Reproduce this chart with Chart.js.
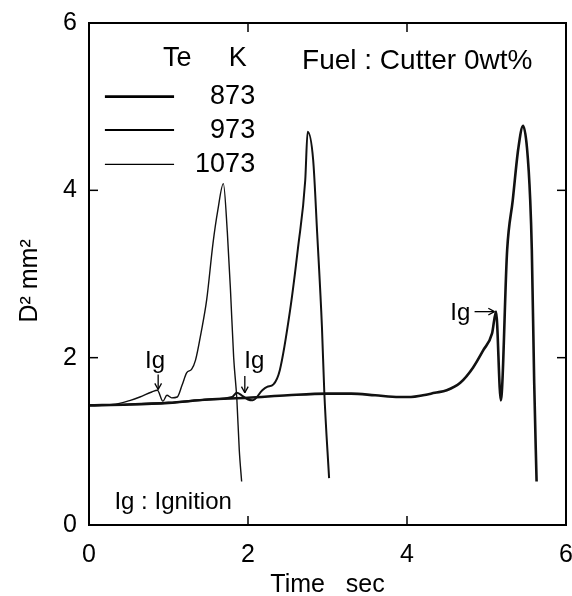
<!DOCTYPE html>
<html>
<head>
<meta charset="utf-8">
<script src="https://cdn.jsdelivr.net/npm/chart.js@4.4.0/dist/chart.umd.min.js"></script>
<style>
  html, body { margin: 0; padding: 0; background: #fff; }
  #wrap { width: 572px; height: 596px; }
</style>
</head>
<body>
<div id="wrap"><canvas id="graphD2" width="572" height="596"></canvas></div>
<script>
// Te = 873 K
const time873 = [0, 0.5, 1.0, 1.5, 2.0, 2.5, 3.0, 3.3, 3.6, 3.9, 4.05, 4.2, 4.35, 4.5, 4.67, 4.83, 4.96, 5.07, 5.12, 5.18, 5.26, 5.33, 5.40, 5.46, 5.51, 5.55, 5.57, 5.60, 5.63];
const d2_873   = [1.43, 1.44, 1.46, 1.50, 1.52, 1.55, 1.57, 1.57, 1.55, 1.53, 1.53, 1.55, 1.58, 1.61, 1.70, 1.88, 2.09, 2.29, 2.55, 1.49, 3.29, 3.88, 4.50, 4.77, 4.50, 3.88, 3.29, 1.70, 0.52];

// Te = 973 K
const time973 = [0, 0.5, 1.0, 1.5, 1.80, 1.86, 1.92, 2.00, 2.06, 2.18, 2.24, 2.32, 2.40, 2.53, 2.63, 2.72, 2.75, 2.82, 2.87, 2.93, 2.96, 3.02];
const d2_973   = [1.43, 1.44, 1.46, 1.50, 1.53, 1.58, 1.55, 1.50, 1.49, 1.61, 1.65, 1.68, 1.85, 2.57, 3.32, 4.12, 4.70, 4.36, 3.49, 2.37, 1.58, 0.56];

// Te = 1073 K
const time1073 = [0, 0.3, 0.52, 0.64, 0.79, 0.86, 0.93, 0.98, 1.04, 1.11, 1.17, 1.23, 1.29, 1.34, 1.41, 1.48, 1.56, 1.62, 1.69, 1.74, 1.78, 1.82, 1.86, 1.89, 1.92];
const d2_1073   = [1.43, 1.44, 1.49, 1.53, 1.59, 1.61, 1.48, 1.55, 1.52, 1.53, 1.67, 1.82, 1.86, 1.97, 2.30, 2.69, 3.37, 3.76, 4.08, 3.50, 2.80, 2.00, 1.50, 0.90, 0.52];

const tempLabels = ['873', '973', '1073'];
const lineWidths = [2.6, 2.0, 1.4];
const axisTicks = [0, 2, 4, 6];

const FONT = '"Liberation Sans", Arial, Helvetica, sans-serif';

function toPoints(xs, ys) {
    return xs.map((v, i) => ({ x: v, y: ys[i] }));
}

const series = [toPoints(time873, d2_873), toPoints(time973, d2_973), toPoints(time1073, d2_1073)];

const data = {
    datasets: series.map((pts, i) => ({
        label: tempLabels[i],
        data: pts,
        borderColor: '#111',
        borderWidth: lineWidths[i],
        pointRadius: 0,
        fill: false,
        cubicInterpolationMode: 'monotone'
    }))
};

function line(ctx, x1, y1, x2, y2) {
    ctx.beginPath();
    ctx.moveTo(x1, y1);
    ctx.lineTo(x2, y2);
    ctx.stroke();
}

function arrow(ctx, x1, y1, x2, y2) {
    line(ctx, x1, y1, x2, y2);
    const a = Math.atan2(y2 - y1, x2 - x1);
    const h = 7;
    line(ctx, x2, y2, x2 - h * Math.cos(a - 0.5), y2 - h * Math.sin(a - 0.5));
    line(ctx, x2, y2, x2 - h * Math.cos(a + 0.5), y2 - h * Math.sin(a + 0.5));
}

// frame, inward ticks, legend and notes
const framePlugin = {
    id: 'frame',
    afterDraw(chart) {
        const { ctx, chartArea: a, scales: { x, y } } = chart;
        ctx.save();
        ctx.strokeStyle = '#000';
        ctx.fillStyle = '#000';
        ctx.lineWidth = 2;
        ctx.strokeRect(a.left, a.top, a.right - a.left, a.bottom - a.top);

        ctx.lineWidth = 1.5;
        axisTicks.slice(1, -1).forEach(v => {
            const px = x.getPixelForValue(v);
            line(ctx, px, a.bottom, px, a.bottom - 9);
            line(ctx, px, a.top, px, a.top + 9);
            const py = y.getPixelForValue(v);
            line(ctx, a.left, py, a.left + 9, py);
            line(ctx, a.right, py, a.right - 9, py);
        });

        // legend
        ctx.textBaseline = 'middle';
        ctx.font = '27px ' + FONT;
        ctx.textAlign = 'left';
        ctx.fillText('Te', x.getPixelForValue(0.93), y.getPixelForValue(5.58));
        ctx.textAlign = 'center';
        ctx.fillText('K', x.getPixelForValue(1.87), y.getPixelForValue(5.58));
        const rows = [5.12, 4.72, 4.31];
        tempLabels.forEach((t, i) => {
            const py = y.getPixelForValue(rows[i]);
            ctx.lineWidth = lineWidths[i];
            line(ctx, x.getPixelForValue(0.2), py, x.getPixelForValue(1.07), py);
            ctx.textAlign = 'right';
            ctx.fillText(t, x.getPixelForValue(2.09), py);
        });

        ctx.font = '28px ' + FONT;
        ctx.textAlign = 'left';
        ctx.fillText('Fuel : Cutter 0wt%', x.getPixelForValue(2.68), y.getPixelForValue(5.54));

        ctx.font = '24px ' + FONT;
        ctx.fillText('Ig : Ignition', x.getPixelForValue(0.32), y.getPixelForValue(0.27));

        // ignition marks
        ctx.textAlign = 'center';
        ctx.lineWidth = 1.3;
        ctx.fillText('Ig', x.getPixelForValue(0.83), y.getPixelForValue(1.95));
        arrow(ctx, x.getPixelForValue(0.87), y.getPixelForValue(1.80), x.getPixelForValue(0.87), y.getPixelForValue(1.62));
        ctx.fillText('Ig', x.getPixelForValue(2.08), y.getPixelForValue(1.95));
        arrow(ctx, x.getPixelForValue(1.96), y.getPixelForValue(1.78), x.getPixelForValue(1.96), y.getPixelForValue(1.58));
        ctx.fillText('Ig', x.getPixelForValue(4.67), y.getPixelForValue(2.53));
        arrow(ctx, x.getPixelForValue(4.85), y.getPixelForValue(2.55), x.getPixelForValue(5.10), y.getPixelForValue(2.55));
        ctx.restore();
    }
};

const config = {
    type: 'line',
    data: data,
    options: {
        responsive: false,
        animation: false,
        layout: { padding: { top: 23, right: 6, left: 0, bottom: 0 } },
        plugins: {
            legend: { display: false },
            tooltip: { enabled: false }
        },
        scales: {
            x: {
                type: 'linear',
                min: 0,
                max: 6,
                afterFit: scale => {
                    scale.height = 71;
                    scale.paddingLeft = 0;
                    scale.paddingRight = 0;
                },
                afterBuildTicks: scale => { scale.ticks = axisTicks.map(v => ({ value: v })); },
                grid: { display: false, drawTicks: false },
                border: { display: false },
                ticks: { color: '#000', padding: 15, maxRotation: 0, font: { family: FONT, size: 25 } },
                title: { display: true, text: 'Time   sec', color: '#000', padding: 0, font: { family: FONT, size: 25, lineHeight: 0.88 } }
            },
            y: {
                min: 0,
                max: 6,
                afterFit: scale => {
                    scale.width = 89;
                    scale.paddingTop = 0;
                    scale.paddingBottom = 0;
                },
                afterBuildTicks: scale => { scale.ticks = axisTicks.map(v => ({ value: v })); },
                grid: { display: false, drawTicks: false },
                border: { display: false },
                ticks: { color: '#000', padding: 12, font: { family: FONT, size: 25 } },
                title: { display: true, text: 'D² mm²  ', color: '#000', padding: { top: 15, bottom: 0 }, font: { family: FONT, size: 25 } }
            }
        }
    },
    plugins: [framePlugin]
};

const D2Chart = new Chart(document.getElementById('graphD2'), config);
</script>
</body>
</html>
